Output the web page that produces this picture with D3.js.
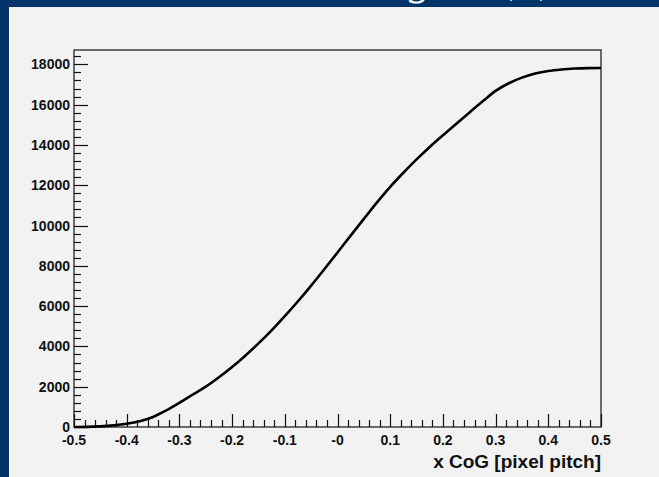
<!DOCTYPE html>
<meta charset="utf-8">
<body style="margin:0">
<script src="https://d3js.org/d3.v7.min.js"></script>
<div id="my_dataviz"></div>
</body>
<script>

// Data: cumulative count vs x CoG
var xValues = [-0.5, -0.475, -0.45, -0.425, -0.4, -0.375, -0.35, -0.325, -0.3, -0.275,
  -0.25, -0.225, -0.2, -0.175, -0.15, -0.125, -0.1, -0.075, -0.05, -0.025,
  0, 0.025, 0.05, 0.075, 0.1, 0.125, 0.15, 0.175, 0.2, 0.225,
  0.25, 0.275, 0.3, 0.325, 0.35, 0.375, 0.4, 0.425, 0.45, 0.475, 0.5]
var counts = [0, 5, 30, 80, 160, 290, 500, 820, 1200, 1600,
  2000, 2470, 2980, 3540, 4150, 4800, 5500, 6240, 7020, 7830,
  8660, 9500, 10330, 11150, 11920, 12620, 13280, 13900, 14480, 15040,
  15600, 16150, 16680, 17060, 17340, 17540, 17670, 17745, 17790, 17812, 17820]
var xTickLabels = ["-0.5", "-0.4", "-0.3", "-0.2", "-0.1", "-0", "0.1", "0.2", "0.3", "0.4", "0.5"]
var yTicks = [0, 2000, 4000, 6000, 8000, 10000, 12000, 14000, 16000, 18000]
var titleText = "CoG integral (x)"
var xTitle = "x CoG [pixel pitch]"

var W = 659, H = 477
var margin = {top: 50, right: 58, bottom: 50, left: 74},
    width = W - margin.left - margin.right,
    height = H - margin.top - margin.bottom

var root = d3.select("#my_dataviz")
  .append("svg")
    .attr("width", W)
    .attr("height", H)
    .style("display", "block")
    .style("font-family", "'Liberation Sans', Arial, sans-serif")

// dark blue page + grey pad
root.append("rect").attr("width", W).attr("height", H).attr("fill", "#003468")
root.append("rect").attr("x", 9).attr("y", 7).attr("width", W - 9).attr("height", H - 7).attr("fill", "#fafafa")
root.append("rect").attr("x", 11).attr("y", 7).attr("width", W - 11).attr("height", H - 7).attr("fill", "#f2f2f2")

// title, mostly cut off above the canvas
root.append("text")
  .attr("x", 390)
  .attr("y", -5)
  .attr("text-anchor", "middle")
  .style("font-family", "'DejaVu Serif', serif")
  .style("font-size", "40px")
  .style("fill", "white")
  .text(titleText)

var svg = root.append("g")
  .attr("transform", "translate(" + margin.left + "," + margin.top + ")")

var x = d3.scaleLinear().domain([-0.5, 0.5]).range([0, width])
var y = d3.scaleLinear().domain([0, 17820 * 1.05]).range([height, 0])

// frame
svg.append("rect")
  .attr("width", width)
  .attr("height", height)
  .attr("fill", "none")
  .attr("stroke", "#222")
  .attr("stroke-width", 1.3)

// y ticks (inside), major every 2000, minor every 400
var yMinor = d3.range(0, y.domain()[1], 400)
svg.append("g").selectAll("line")
  .data(yMinor)
  .join("line")
    .attr("x1", 0)
    .attr("x2", function(d) { return d % 2000 === 0 ? 14 : 7 })
    .attr("y1", function(d) { return Math.round(y(d)) + 0.5 })
    .attr("y2", function(d) { return Math.round(y(d)) + 0.5 })
    .attr("stroke", "#111")
    .attr("stroke-width", 1.2)

svg.append("g").selectAll("text")
  .data(yTicks)
  .join("text")
    .attr("x", -4)
    .attr("y", function(d) { return y(d) + 5 })
    .attr("text-anchor", "end")
    .style("font-size", "14px")
    .style("font-weight", "bold")
    .style("fill", "#111")
    .text(function(d) { return d })

// x ticks (inside), major every 0.1, minor every 0.02
var xMinor = d3.range(0, 51).map(function(i) { return -0.5 + i * 0.02 })
svg.append("g").selectAll("line")
  .data(xMinor)
  .join("line")
    .attr("x1", function(d) { return Math.round(x(d)) + 0.5 })
    .attr("x2", function(d) { return Math.round(x(d)) + 0.5 })
    .attr("y1", height)
    .attr("y2", function(_, i) { return height - (i % 5 === 0 ? 13 : 7) })
    .attr("stroke", "#111")
    .attr("stroke-width", 1.2)

svg.append("g").selectAll("text")
  .data(xTickLabels)
  .join("text")
    .attr("x", function(d, i) { return x(-0.5 + i * 0.1) })
    .attr("y", height + 18)
    .attr("text-anchor", "middle")
    .style("font-size", "14px")
    .style("font-weight", "bold")
    .style("fill", "#111")
    .text(function(d) { return d })

// axis title
svg.append("text")
  .attr("x", width)
  .attr("y", height + 41)
  .attr("text-anchor", "end")
  .style("font-size", "19px")
  .style("font-weight", "bold")
  .style("fill", "#111")
  .text(xTitle)

// the curve
var line = d3.line()
  .x(function(d, i) { return x(xValues[i]) })
  .y(function(d) { return y(d) })
  .curve(d3.curveMonotoneX)

svg.append("path")
  .datum(counts)
  .attr("d", line)
  .attr("fill", "none")
  .attr("stroke", "black")
  .attr("stroke-width", 2.6)
  .attr("stroke-linejoin", "round")

</script>
